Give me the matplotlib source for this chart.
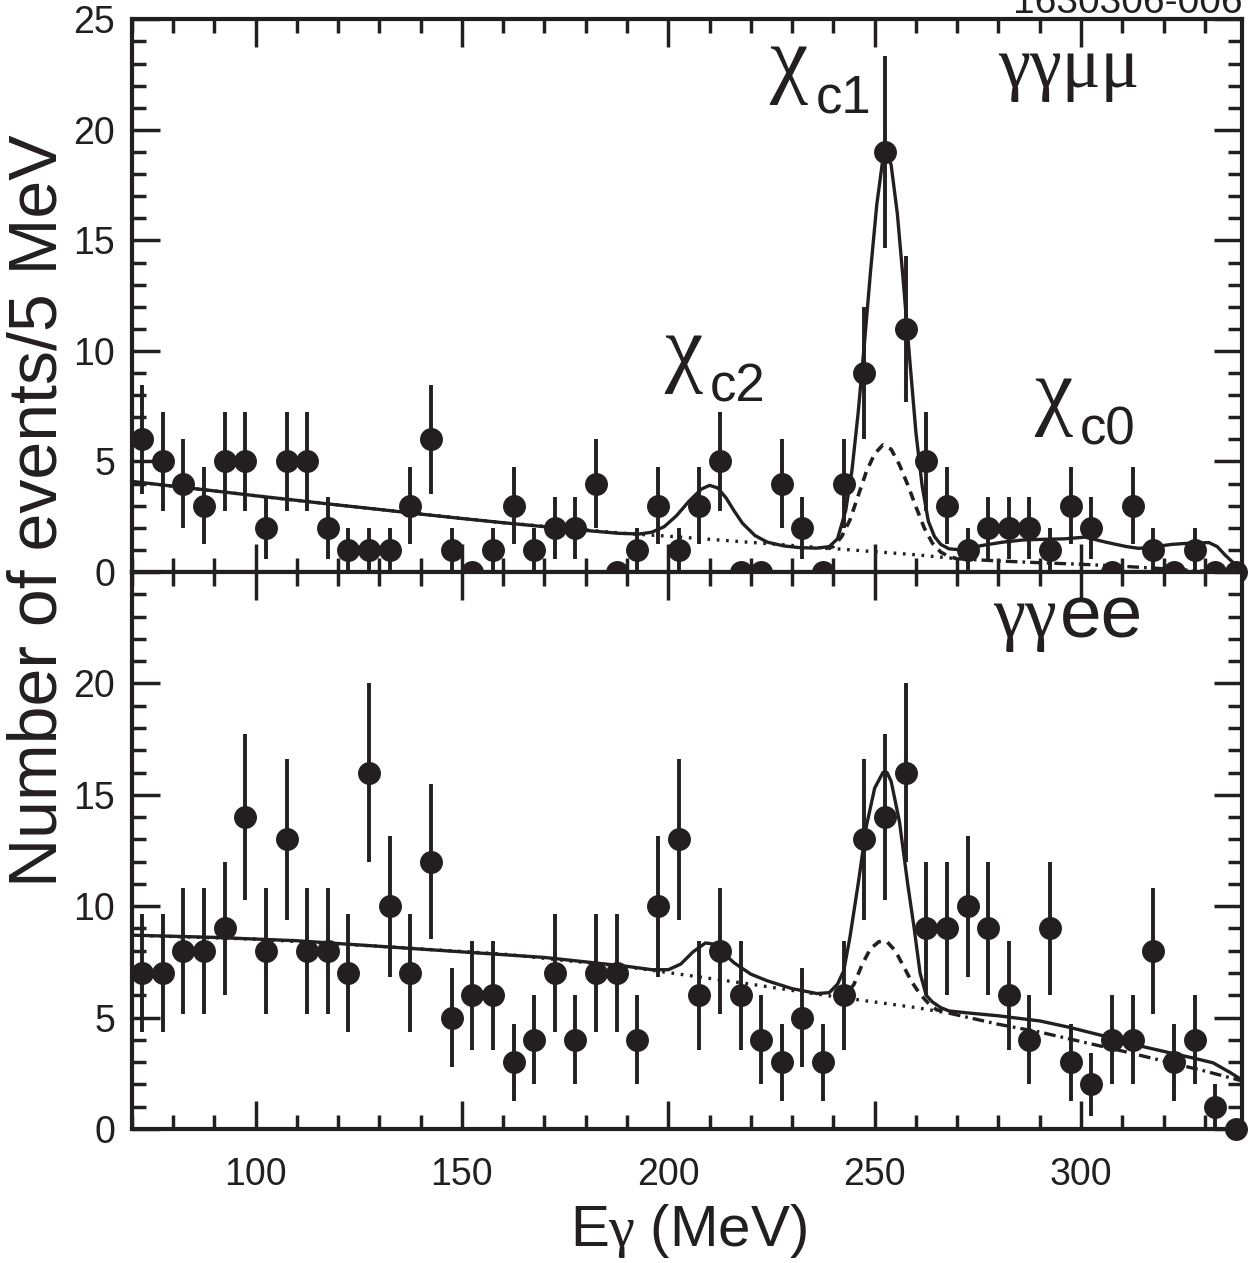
import numpy as np
import matplotlib
matplotlib.use("Agg")
import matplotlib.pyplot as plt
from matplotlib.ticker import MultipleLocator, FuncFormatter

plt.rcParams["font.family"] = ["Liberation Sans", "DejaVu Sans"]
plt.rcParams["mathtext.fontset"] = "custom"
plt.rcParams["mathtext.rm"] = "Liberation Sans"
plt.rcParams["mathtext.it"] = "Liberation Serif"

INK = "#231f20"
GREEK = ["Liberation Serif", "DejaVu Serif"]

# photon energy bin centres (5 MeV bins)
egamma = np.arange(72.5, 340, 5.0)

# gamma gamma mu mu events per bin
mumu_counts = [6, 5, 4, 3, 5, 5, 2, 5, 5, 2,
               1, 1, 1, 3, 6, 1, 0, 1, 3, 1,
               2, 2, 4, 0, 1, 3, 1, 3, 5, 0,
               0, 4, 2, 0, 4, 9, 19, 11, 5, 3,
               1, 2, 2, 2, 1, 3, 2, 0, 3, 1,
               0, 1, 0, 0]

# gamma gamma e e events per bin
ee_counts = [7, 7, 8, 8, 9, 14, 8, 13, 8, 8,
             7, 16, 10, 7, 12, 5, 6, 6, 3, 4,
             7, 4, 7, 7, 4, 10, 13, 6, 8, 6,
             4, 3, 5, 3, 6, 13, 14, 16, 9, 9,
             10, 9, 6, 4, 9, 3, 2, 4, 4, 8,
             3, 4, 1, 0]

# fit curves -- mumu
mumu_fit_x = [70, 80, 90, 100, 110, 120, 130, 140, 150, 160,
              170, 180, 188, 193, 196, 199, 202, 205, 208, 210,
              212, 214, 216, 218, 221, 224, 228, 232, 236, 239,
              241, 243, 244.5, 246, 247.5, 249, 250.5, 252, 253, 254,
              255.5, 257, 258.5, 260, 261.5, 263, 264.5, 266, 268, 271,
              276, 281, 286, 291, 296, 301, 306, 311, 314, 318,
              322, 326, 331, 333, 335, 337, 339]
mumu_fit_y = [4.10, 3.88, 3.67, 3.45, 3.24, 3.03, 2.83, 2.62, 2.42, 2.23,
              2.05, 1.88, 1.75, 1.72, 1.80, 2.05, 2.55, 3.20, 3.75, 3.92,
              3.80, 3.35, 2.75, 2.20, 1.65, 1.35, 1.18, 1.10, 1.08, 1.15,
              1.50, 2.80, 4.60, 7.20, 10.3, 13.6, 16.6, 18.7, 19.0, 18.4,
              16.2, 13.0, 9.6, 6.3, 3.9, 2.3, 1.60, 1.25, 1.05, 1.00,
              1.20, 1.35, 1.45, 1.48, 1.50, 1.58, 1.35, 1.15, 1.07, 1.15,
              1.25, 1.30, 1.33, 1.15, 0.75, 0.40, 0.10]
mumu_bkg_x = [70, 100, 130, 160, 190, 200, 210, 220, 230, 240, 250, 260, 270]
mumu_bkg_y = [4.10, 3.45, 2.83, 2.23, 1.74, 1.62, 1.48, 1.34, 1.20, 1.06, 0.92, 0.78, 0.60]
mumu_tail_x = [270, 280, 290, 300, 310, 320, 330, 339]
mumu_tail_y = [0.60, 0.50, 0.42, 0.35, 0.26, 0.15, 0.04, 0.0]
mumu_c1_x = [238, 240, 242, 244, 246, 248, 250, 252, 254, 256, 258, 260, 262, 264, 266, 268, 270]
mumu_c1_y = [1.06, 1.15, 1.60, 2.35, 3.45, 4.55, 5.35, 5.75, 5.55, 4.85, 3.95, 2.95, 2.00, 1.30, 0.90, 0.70, 0.60]

# fit curves -- ee
ee_fit_x = [70, 90, 110, 130, 150, 170, 190, 196, 200, 203,
            206, 209, 211, 213, 216, 220, 224, 230, 236, 239,
            241, 242.5, 244, 246, 248, 250, 252, 253, 254, 256,
            257, 258, 259.5, 261, 262.5, 264, 266, 268, 272, 280,
            290, 297, 305, 314, 322, 328, 332, 336, 339]
ee_fit_y = [8.70, 8.60, 8.45, 8.20, 7.95, 7.70, 7.30, 7.15, 7.15, 7.40,
            7.95, 8.35, 8.30, 7.95, 7.45, 6.95, 6.65, 6.30, 6.08, 6.12,
            6.50, 7.10, 8.60, 11.0, 13.6, 15.3, 16.0, 16.0, 15.6, 13.8,
            12.4, 11.0, 9.1, 7.0, 6.0, 5.70, 5.45, 5.30, 5.22, 5.08,
            4.85, 4.57, 4.20, 3.74, 3.40, 3.15, 2.97, 2.55, 2.20]
ee_bkg_x = [70, 100, 130, 160, 190, 200, 210, 220, 230, 240, 250, 260, 268]
ee_bkg_y = [8.70, 8.52, 8.20, 7.85, 7.28, 7.02, 6.76, 6.50, 6.22, 5.95, 5.70, 5.45, 5.20]
ee_tail_x = [268, 280, 290, 297, 310, 320, 330, 339]
ee_tail_y = [5.20, 4.70, 4.35, 4.05, 3.50, 3.05, 2.60, 2.16]
ee_c1_x = [241, 243, 245, 247, 249, 251, 252, 253, 255, 257, 259, 261, 263, 265, 267]
ee_c1_y = [5.92, 6.00, 6.50, 7.40, 8.10, 8.40, 8.44, 8.40, 8.00, 7.30, 6.60, 6.05, 5.65, 5.35, 5.27]


def style_axes(ax):
    ax.set_xlim(70, 339)
    ax.set_ylim(0, 25)
    ax.xaxis.set_major_locator(MultipleLocator(50))
    ax.xaxis.set_minor_locator(MultipleLocator(10))
    ax.yaxis.set_major_locator(MultipleLocator(5))
    ax.yaxis.set_minor_locator(MultipleLocator(1))
    ax.tick_params(which="both", direction="in", top=True, right=True,
                   width=2.5, color=INK, labelcolor=INK, labelsize=27)
    ax.tick_params(which="major", length=20)
    ax.tick_params(which="minor", length=10)
    ax.tick_params(axis="y", pad=12)
    ax.tick_params(axis="x", pad=20)
    for sp in ax.spines.values():
        sp.set_linewidth(3)
        sp.set_color(INK)


def draw_panel(ax, counts, fit, bkg, tail, c1):
    ax.plot(*bkg, color=INK, lw=2.4, ls=(0, (0.8, 2.0)))
    ax.plot(*tail, color=INK, lw=2.4, ls=(0, (3.5, 1.5, 0.8, 1.5)))
    ax.plot(*c1, color=INK, lw=2.6, ls=(0, (2.6, 1.9)))
    ax.plot(*fit, color=INK, lw=2.4)
    counts = np.array(counts, dtype=float)
    ax.errorbar(egamma, counts, yerr=np.sqrt(counts), fmt="o", color=INK,
                ms=15.5, elinewidth=2.8, capsize=0, clip_on=False, zorder=5)


def chi_label(ax, x, y, sub):
    # chi in a serif Greek face, subscript dropped well below the baseline
    ax.text(x, y, "χ", fontsize=62, family=GREEK, ha="left", va="baseline", color=INK)
    ax.annotate(sub, xy=(x, y), xytext=(33, -19), textcoords="offset points",
                fontsize=38, ha="left", va="baseline", color=INK)


fig = plt.figure(figsize=(12.5, 12.63), dpi=100)
ax_top = fig.add_axes([0.1054, 0.5471, 0.8882, 0.4376])
ax_bot = fig.add_axes([0.1054, 0.1061, 0.8882, 0.4410])

for ax in (ax_top, ax_bot):
    style_axes(ax)

draw_panel(ax_top, mumu_counts, (mumu_fit_x, mumu_fit_y), (mumu_bkg_x, mumu_bkg_y),
           (mumu_tail_x, mumu_tail_y), (mumu_c1_x, mumu_c1_y))
draw_panel(ax_bot, ee_counts, (ee_fit_x, ee_fit_y), (ee_bkg_x, ee_bkg_y),
           (ee_tail_x, ee_tail_y), (ee_c1_x, ee_c1_y))

ax_top.tick_params(axis="x", labelbottom=False)
ax_bot.yaxis.set_major_formatter(FuncFormatter(lambda v, p: "" if v > 22 else f"{v:.0f}"))

chi_label(ax_top, 224.5, 22.0, "c1")
chi_label(ax_top, 199.0, 8.9, "c2")
chi_label(ax_top, 288.7, 6.97, "c0")

ax_top.text(279.9, 21.95, "γγμμ", fontsize=52, family=GREEK, ha="left", va="baseline", color=INK)
ax_bot.text(278.7, 22.07, "γγ", fontsize=52, family=GREEK, ha="left", va="baseline", color=INK)
ax_bot.annotate("ee", xy=(278.7, 22.07), xytext=(48, 0), textcoords="offset points",
                fontsize=54, ha="left", va="baseline", color=INK)

fig.text(0.031, 0.596, "Number of events/5 MeV", rotation=90, fontsize=49,
         ha="center", va="center", color=INK)
fig.text(0.551, 0.025, r"$\mathrm{E}\gamma\ \mathrm{(MeV)}$", fontsize=42,
         ha="center", va="center", color=INK)
fig.text(0.994, 1 - 13 / 1263, "1630306-006", fontsize=28, ha="right", va="baseline", color=INK)

fig.savefig("out.png", dpi=100)
